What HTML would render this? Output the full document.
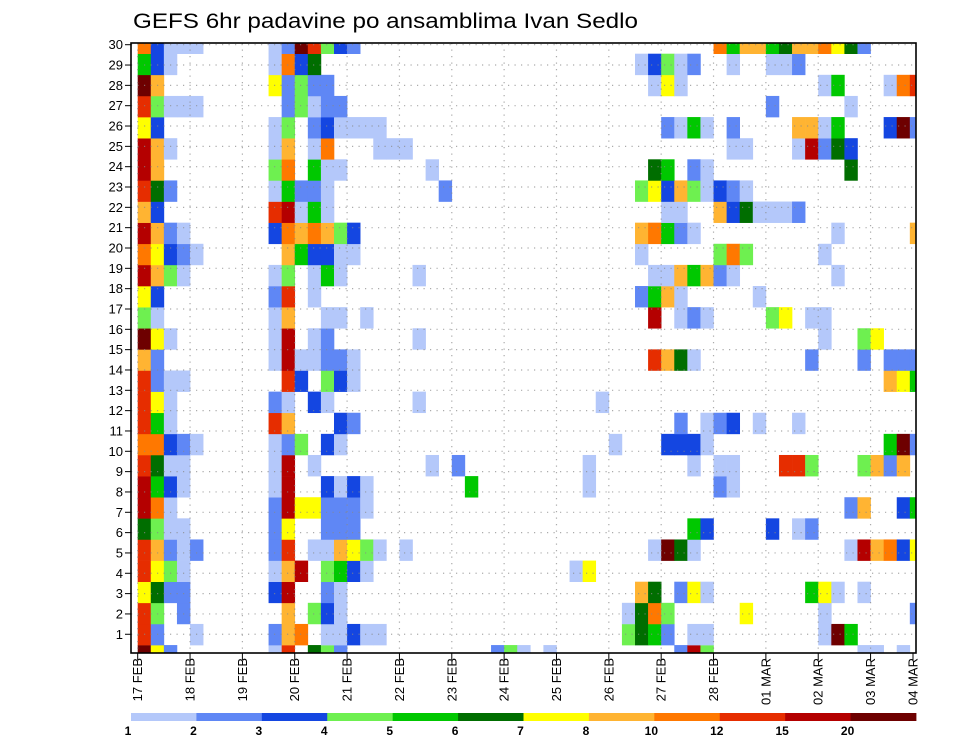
<!DOCTYPE html>
<html><head><meta charset="utf-8"><title>GEFS 6hr padavine</title>
<style>
html,body{margin:0;padding:0;background:#fff;}
svg{display:block;font-family:"Liberation Sans",sans-serif;}
</style></head>
<body>
<svg id="chart" width="960" height="742" viewBox="0 0 960 742" xmlns="http://www.w3.org/2000/svg">
<text x="133" y="28" font-size="21" textLength="505" lengthAdjust="spacingAndGlyphs" fill="#000">GEFS 6hr padavine po ansamblima Ivan Sedlo</text>
<g id="cells"></g>
<g id="grid"></g>
<g id="axes"></g>
<g id="legend"></g>
</svg>
<script>
// ---- data ----
const dayLabels = ["17 FEB","18 FEB","19 FEB","20 FEB","21 FEB","22 FEB","23 FEB","24 FEB","25 FEB","26 FEB","27 FEB","28 FEB","01 MAR","02 MAR","03 MAR","04 MAR"];
const memberTicks = [1,2,3,4,5,6,7,8,9,10,11,12,13,14,15,16,17,18,19,20,21,22,23,24,25,26,27,28,29,30];
const legendLabels = ["1","2","3","4","5","6","7","8","10","12","15","20"];
const thresholds = [1,2,3,4,5,6,7,8,10,12,15,20];
const colors = ["#b4c8fa","#5f87f5","#1446e1","#6ef050","#00c800","#006e00","#ffff00","#ffb432","#ff7800","#e62d00","#b40000","#6e0000"];
// precipitation (mm/6h) per member: [timeStepIndex, value]
const m30 = [[0,11],[1,3.5],[2,1.5],[3,1.5],[4,1.5],[10,1.5],[11,2.5],[12,25],[13,13],[14,4.5],[15,3.5],[16,2.5],[44,11],[45,5.5],[46,9],[47,9],[48,5.5],[49,6.5],[50,9],[51,9],[52,11],[53,7.5],[54,6.5],[55,2.5]];
const m29 = [[0,5.5],[1,3.5],[2,1.5],[10,1.5],[11,11],[12,3.5],[13,6.5],[38,1.5],[39,3.5],[40,4.5],[41,1.5],[42,2.5],[45,1.5],[48,1.5],[49,1.5],[50,2.5]];
const m28 = [[0,25],[1,9],[10,7.5],[11,2.5],[12,4.5],[13,2.5],[14,2.5],[39,1.5],[40,7.5],[41,1.5],[52,1.5],[53,5.5],[57,1.5],[58,11],[59,13]];
const m27 = [[0,13],[1,4.5],[2,1.5],[3,1.5],[4,1.5],[11,2.5],[12,4.5],[13,1.5],[14,2.5],[15,2.5],[48,2.5],[54,1.5]];
const m26 = [[0,7.5],[1,3.5],[10,1.5],[11,4.5],[13,2.5],[14,3.5],[15,1.5],[16,1.5],[17,1.5],[18,1.5],[40,2.5],[41,1.5],[42,5.5],[43,1.5],[45,2.5],[50,9],[51,9],[52,1.5],[53,5.5],[57,3.5],[58,25],[59,2.5]];
const m25 = [[0,17],[1,9],[2,1.5],[10,1.5],[11,9],[13,1.5],[14,11],[18,1.5],[19,1.5],[20,1.5],[45,1.5],[46,1.5],[50,1.5],[51,17],[52,2.5],[53,6.5],[54,3.5]];
const m24 = [[0,17],[1,9],[10,4.5],[11,11],[13,5.5],[14,1.5],[15,1.5],[22,1.5],[39,6.5],[40,5.5],[42,2.5],[43,1.5],[54,6.5]];
const m23 = [[0,13],[1,6.5],[2,2.5],[10,1.5],[11,5.5],[12,2.5],[13,2.5],[14,1.5],[23,2.5],[38,4.5],[39,7.5],[40,3.5],[41,9],[42,4.5],[43,1.5],[44,3.5],[45,2.5],[46,1.5]];
const m22 = [[0,9],[1,3.5],[10,13],[11,17],[12,1.5],[13,5.5],[14,1.5],[40,1.5],[41,1.5],[44,9],[45,3.5],[46,6.5],[47,1.5],[48,1.5],[49,1.5],[50,2.5]];
const m21 = [[0,17],[1,9],[2,2.5],[3,1.5],[10,3.5],[11,11],[12,9],[13,11],[14,9],[15,4.5],[16,3.5],[38,9],[39,11],[40,5.5],[41,2.5],[42,1.5],[53,1.5],[59,9]];
const m20 = [[0,11],[1,7.5],[2,3.5],[3,2.5],[4,1.5],[11,9],[12,5.5],[13,3.5],[14,3.5],[15,1.5],[16,1.5],[38,1.5],[44,4.5],[45,11],[46,4.5],[52,1.5]];
const m19 = [[0,17],[1,9],[2,4.5],[3,1.5],[10,1.5],[11,4.5],[13,1.5],[14,5.5],[15,1.5],[21,1.5],[39,1.5],[40,1.5],[41,9],[42,5.5],[43,9],[44,2.5],[45,1.5],[53,1.5]];
const m18 = [[0,7.5],[1,3.5],[10,2.5],[11,13],[13,1.5],[38,2.5],[39,5.5],[40,9],[41,1.5],[47,1.5]];
const m17 = [[0,4.5],[1,1.5],[10,1.5],[11,9],[14,1.5],[15,1.5],[17,1.5],[39,17],[41,1.5],[42,2.5],[43,1.5],[48,4.5],[49,7.5],[51,1.5],[52,1.5]];
const m16 = [[0,25],[1,7.5],[2,1.5],[10,1.5],[11,17],[13,1.5],[14,2.5],[21,1.5],[52,1.5],[55,4.5],[56,7.5]];
const m15 = [[0,9],[1,2.5],[10,1.5],[11,17],[12,1.5],[13,1.5],[14,2.5],[15,2.5],[16,1.5],[39,13],[40,9],[41,6.5],[42,1.5],[51,2.5],[55,2.5],[57,2.5],[58,2.5],[59,2.5]];
const m14 = [[0,13],[1,2.5],[2,1.5],[3,1.5],[11,13],[12,3.5],[14,4.5],[15,3.5],[16,1.5],[57,9],[58,7.5],[59,5.5]];
const m13 = [[0,13],[1,7.5],[2,1.5],[10,2.5],[11,1.5],[13,3.5],[14,1.5],[21,1.5],[35,1.5]];
const m12 = [[0,13],[1,5.5],[2,1.5],[10,13],[11,9],[15,3.5],[16,2.5],[41,2.5],[43,1.5],[44,2.5],[45,3.5],[47,1.5],[50,1.5]];
const m11 = [[0,11],[1,11],[2,3.5],[3,2.5],[4,1.5],[10,1.5],[11,2.5],[12,4.5],[14,3.5],[15,1.5],[36,1.5],[40,3.5],[41,3.5],[42,3.5],[43,1.5],[57,5.5],[58,25],[59,2.5]];
const m10 = [[0,13],[1,6.5],[2,1.5],[3,1.5],[10,1.5],[11,17],[13,1.5],[22,1.5],[24,2.5],[34,1.5],[42,1.5],[44,1.5],[45,1.5],[49,13],[50,13],[51,4.5],[55,4.5],[56,9],[57,2.5],[58,9]];
const m9 = [[0,17],[1,5.5],[2,3.5],[3,1.5],[10,1.5],[11,17],[14,3.5],[15,1.5],[16,3.5],[17,1.5],[25,5.5],[34,1.5],[44,2.5],[45,1.5]];
const m8 = [[0,17],[1,11],[2,1.5],[10,2.5],[11,17],[12,7.5],[13,7.5],[14,2.5],[15,2.5],[16,2.5],[17,1.5],[54,2.5],[55,9],[58,3.5],[59,5.5]];
const m7 = [[0,6.5],[1,4.5],[2,1.5],[3,1.5],[10,2.5],[11,7.5],[14,2.5],[15,2.5],[16,2.5],[42,5.5],[43,3.5],[48,3.5],[50,1.5],[51,2.5]];
const m6 = [[0,13],[1,9],[2,2.5],[3,1.5],[4,2.5],[10,2.5],[11,13],[13,1.5],[14,1.5],[15,9],[16,7.5],[17,4.5],[18,1.5],[20,1.5],[39,1.5],[40,25],[41,6.5],[42,1.5],[54,1.5],[55,17],[56,9],[57,11],[58,3.5],[59,7.5]];
const m5 = [[0,13],[1,7.5],[2,4.5],[3,1.5],[10,1.5],[11,9],[12,17],[14,4.5],[15,5.5],[16,3.5],[17,1.5],[33,1.5],[34,7.5]];
const m4 = [[0,7.5],[1,6.5],[2,2.5],[3,2.5],[10,3.5],[11,17],[14,2.5],[15,1.5],[38,9],[39,6.5],[41,2.5],[42,7.5],[43,1.5],[51,5.5],[52,7.5],[53,1.5],[55,1.5]];
const m3 = [[0,13],[1,4.5],[3,2.5],[11,9],[13,4.5],[14,3.5],[15,1.5],[37,1.5],[38,6.5],[39,11],[40,4.5],[46,7.5],[52,1.5],[59,2.5]];
const m2 = [[0,13],[1,2.5],[4,1.5],[10,2.5],[11,9],[12,11],[14,1.5],[15,1.5],[16,3.5],[17,1.5],[18,1.5],[37,4.5],[38,6.5],[39,5.5],[40,2.5],[42,1.5],[43,1.5],[52,1.5],[53,25],[54,5.5]];
const m1 = [[0,25],[1,7.5],[2,2.5],[10,1.5],[11,13],[13,6.5],[14,4.5],[15,2.5],[27,2.5],[28,4.5],[29,1.5],[31,1.5],[41,2.5],[42,17],[43,4.5],[55,1.5],[56,1.5],[58,1.5]];
const memberSeries = [m1,m2,m3,m4,m5,m6,m7,m8,m9,m10,m11,m12,m13,m14,m15,m16,m17,m18,m19,m20,m21,m22,m23,m24,m25,m26,m27,m28,m29,m30];

// ---- layout / scales ----
const NS = "http://www.w3.org/2000/svg";
const L = 131, R = 916, T = 43, B = 653;
const x0 = 137.7, stepW = 13.087;
const cellH = 21.12;
function xStep(i){ return x0 + stepW * i; }
function xDay(d){ return x0 + stepW * 4 * d; }
function yCellTop(m){ return 53.7 + (29 - m) * cellH; }
function yTick(m){ return 654.6 - m * 20.33; }
function colorFor(v){
  let idx = -1;
  for (let k = 0; k < thresholds.length; k++){ if (v >= thresholds[k]) idx = k; }
  return idx < 0 ? null : colors[idx];
}
function mk(tag, attrs, parent){
  const e = document.createElementNS(NS, tag);
  for (const k in attrs) e.setAttribute(k, attrs[k]);
  parent.appendChild(e);
  return e;
}

// ---- cells ----
const gCells = document.getElementById('cells');
memberSeries.forEach(function(series, mi){
  const m = mi + 1;
  series.forEach(function(pt){
    const col = colorFor(pt[1]);
    if (!col) return;
    let x1 = xStep(pt[0]), x2 = xStep(pt[0] + 1);
    let y1 = yCellTop(m), y2 = y1 + cellH;
    x1 = Math.max(x1, L); x2 = Math.min(x2, R);
    y1 = Math.max(y1, T); y2 = Math.min(y2, B);
    if (x2 <= x1 || y2 <= y1) return;
    const r = mk('rect', {x:x1.toFixed(2), y:y1.toFixed(2), width:(x2-x1+0.3).toFixed(2), height:(y2-y1+0.3).toFixed(2), fill:col}, gCells);
    
    
  });
});

// ---- grid ----
const gGrid = document.getElementById('grid');
memberTicks.forEach(function(m){
  const y = yTick(m);
  if (y <= T + 1) return;
  const ln = mk('line', {x1:L, x2:R, y1:y, y2:y, stroke:'#888', 'stroke-width':1.2, 'stroke-dasharray':'1.2 5.3', opacity:0.7}, gGrid);
  
  
});
dayLabels.forEach(function(lbl, d){
  const x = xDay(d);
  if (x <= L + 2 || x >= R - 1) return;
  const ln = mk('line', {x1:x, x2:x, y1:T, y2:B, stroke:'#888', 'stroke-width':1.2, 'stroke-dasharray':'1.2 5.3', opacity:0.7}, gGrid);
  
  
});

// ---- axes ----
const gAx = document.getElementById('axes');
const frame = mk('rect', {x:L, y:T, width:R-L, height:B-T, fill:'none', stroke:'#000', 'stroke-width':1.6}, gAx);


memberTicks.forEach(function(m){
  const y = yTick(m);
  const t = mk('line', {x1:L-6, x2:L, y1:y, y2:y, stroke:'#000', 'stroke-width':1}, gAx);
  
  
  const tx = mk('text', {x:L-8, y:y+4.5, 'font-size':13, 'text-anchor':'end', fill:'#000'}, gAx);
  tx.textContent = String(m);
  
  
});
dayLabels.forEach(function(lbl, d){
  let x = xDay(d);
  if (x > R) x = R - 3;
  const t = mk('line', {x1:x, x2:x, y1:B, y2:B+7, stroke:'#000', 'stroke-width':1}, gAx);
  
  
  const tx = mk('text', {x:0, y:0, 'font-size':13, 'text-anchor':'end', fill:'#000', transform:'translate(' + (x+4.5).toFixed(1) + ',' + (B+5) + ') rotate(-90)'}, gAx);
  tx.textContent = lbl;
  
  
});

// ---- legend ----
const gLeg = document.getElementById('legend');
const legW = (R - L) / colors.length;
colors.forEach(function(c, k){
  const r = mk('rect', {x:(L + legW*k).toFixed(2), y:713, width:(legW+0.4).toFixed(2), height:8, fill:c}, gLeg);
  
  
});
legendLabels.forEach(function(lbl, k){
  const tx = mk('text', {x:(L - 3 + legW*k).toFixed(2), y:735, 'font-size':12, 'font-weight':'bold', 'text-anchor':'middle', fill:'#000'}, gLeg);
  tx.textContent = lbl;
  
  
});
</script>
</body></html>
